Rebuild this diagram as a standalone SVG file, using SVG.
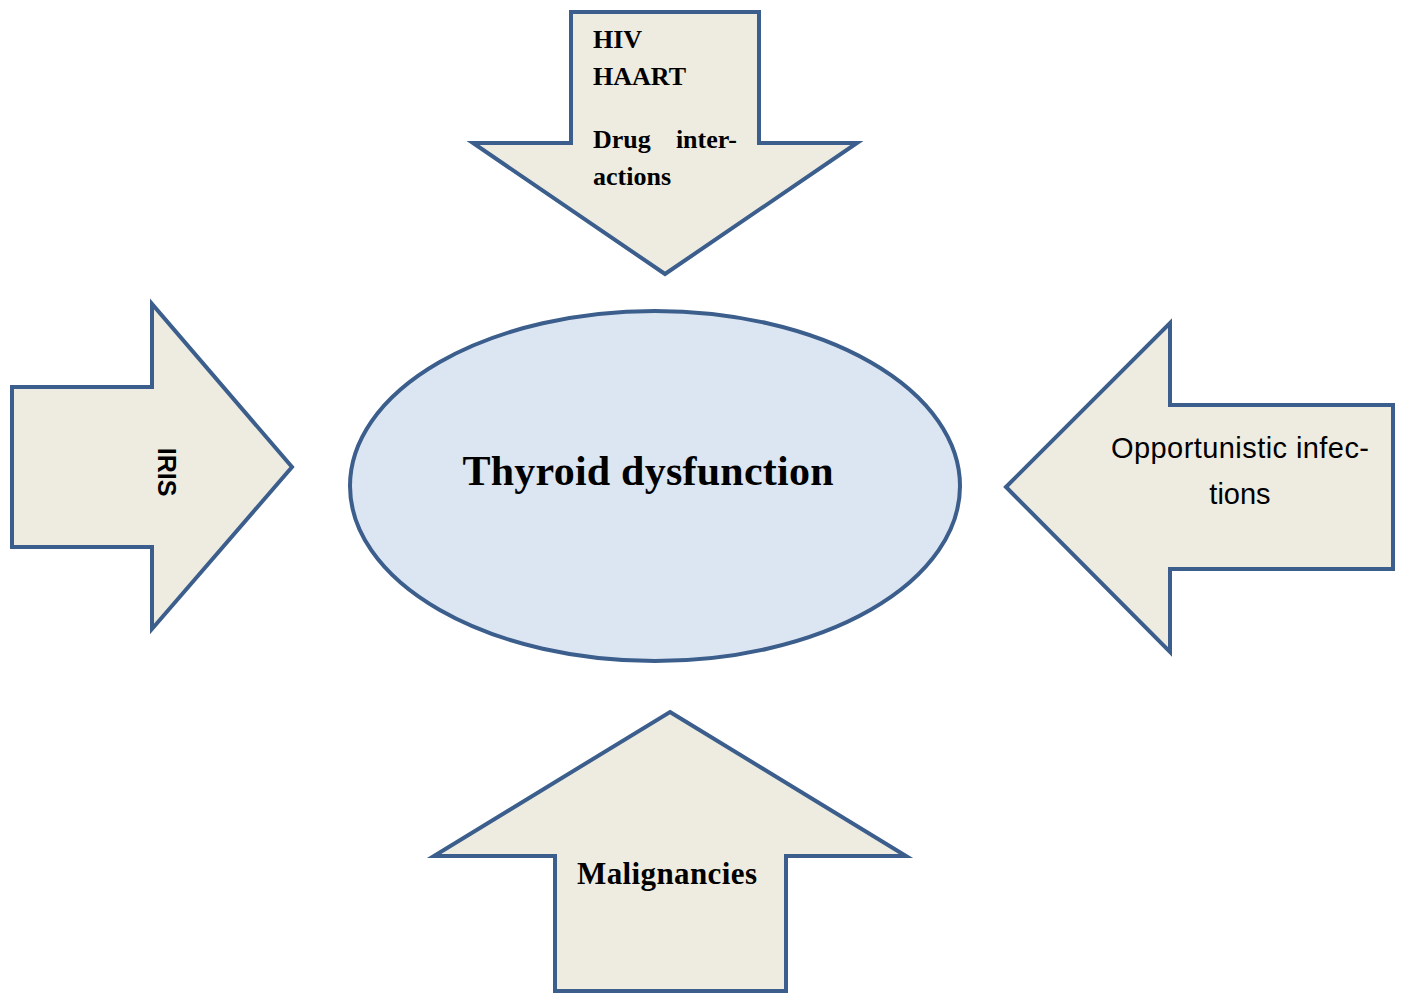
<svg xmlns="http://www.w3.org/2000/svg" width="1401" height="993" viewBox="0 0 1401 993">
<style>
.arrow{fill:#eeece1;stroke:#3b5e8c;stroke-width:4;stroke-linejoin:miter}
.serif{font-family:"Liberation Serif","Times New Roman",serif;font-weight:bold;fill:#000}
.sans{font-family:"Liberation Sans",Arial,sans-serif;fill:#000}
</style>
<rect width="1401" height="993" fill="#ffffff"/>
<g id="center">
<ellipse cx="655" cy="486" rx="305" ry="175" fill="#dce6f2" stroke="#3b5e8c" stroke-width="4"/>
<text class="serif" x="648" y="485" font-size="42" text-anchor="middle" textLength="371">Thyroid dysfunction</text>
</g>
<g id="connectors">
<g id="top-arrow">
<polygon class="arrow" points="571,12 759,12 759,143 857,143 665,274 473,143 571,143"/>
<text class="serif" x="593" y="48" font-size="26">HIV</text>
<text class="serif" x="593" y="85" font-size="26">HAART</text>
<text class="serif" x="593" y="148" font-size="26">Drug</text>
<text class="serif" x="737" y="148" font-size="26" text-anchor="end">inter-</text>
<text class="serif" x="593" y="185" font-size="26">actions</text>
</g>
<g id="left-arrow">
<polygon class="arrow" points="12,387 152,387 152,304 292,467 152,629 152,547 12,547"/>
<text class="sans" font-weight="bold" font-size="25" text-anchor="middle" transform="translate(158,472) rotate(90)">IRIS</text>
</g>
<g id="right-arrow">
<polygon class="arrow" points="1006,487 1170,323 1170,405 1393,405 1393,569 1170,569 1170,652"/>
<text class="sans" x="1240" y="458" font-size="29" text-anchor="middle" textLength="258">Opportunistic infec-</text>
<text class="sans" x="1240" y="504" font-size="29" text-anchor="middle">tions</text>
</g>
<g id="bottom-arrow">
<polygon class="arrow" points="670,712 906,856 786,856 786,991 555,991 555,856 434,856"/>
<text class="serif" x="667" y="884" font-size="31" text-anchor="middle" textLength="180">Malignancies</text>
</g>
</g>
</svg>
